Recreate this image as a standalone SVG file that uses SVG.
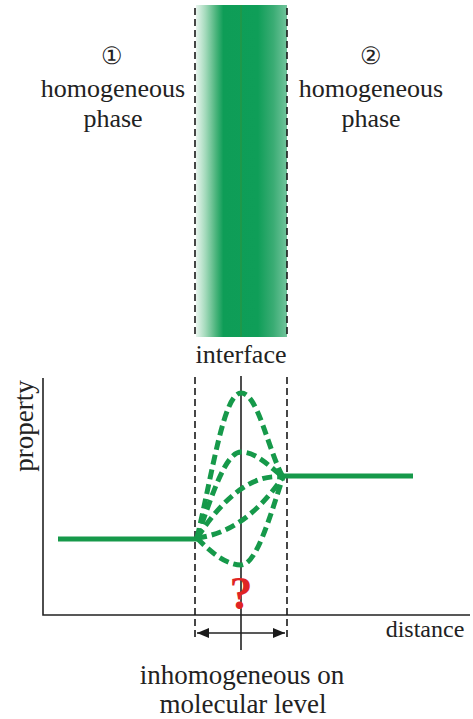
<svg xmlns="http://www.w3.org/2000/svg" width="473" height="719" viewBox="0 0 473 719">
<style>
.t{font-family:"Liberation Serif","Times New Roman",serif;fill:#222;text-anchor:middle}
.bd{stroke:#1a1a1a;stroke-width:1.6;stroke-dasharray:7 4;fill:none}
.ax{stroke:#222;stroke-width:1.6;fill:none}
.gs{stroke:#16994a;stroke-width:5;fill:none}
.gd{stroke:#16994a;stroke-width:5;fill:none;stroke-dasharray:10 5}
</style>
<defs>
<linearGradient id="band" x1="196" y1="0" x2="287" y2="0" gradientUnits="userSpaceOnUse">
<stop offset="0" stop-color="#e8f5ee"/>
<stop offset="0.1" stop-color="#a6dbbd"/>
<stop offset="0.22" stop-color="#4ab47c"/>
<stop offset="0.3" stop-color="#0e9d57"/>
<stop offset="0.68" stop-color="#0f9e58"/>
<stop offset="0.85" stop-color="#3aac74"/>
<stop offset="1" stop-color="#72c49c"/>
</linearGradient>
<marker id="ah" viewBox="0 0 12 10" refX="12" refY="5" markerWidth="12" markerHeight="10" markerUnits="userSpaceOnUse" orient="auto-start-reverse">
<path d="M0,0 L12,5 L0,10 Z" fill="#1a1a1a"/>
</marker>
</defs>

<g id="interface-band">
<rect x="196" y="5" width="91" height="332" fill="url(#band)"/>
<line x1="241" y1="5" x2="241" y2="337" stroke="#2a9440" stroke-width="1.2"/>
</g>

<g id="phase1">
<text class="t" x="112" y="64" font-size="24">①</text>
<text class="t" x="113" y="97" font-size="26">homogeneous</text>
<text class="t" x="113" y="127" font-size="26">phase</text>
</g>
<g id="phase2">
<text class="t" x="371" y="64" font-size="24">②</text>
<text class="t" x="371" y="97" font-size="26">homogeneous</text>
<text class="t" x="371" y="127" font-size="26">phase</text>
</g>
<g id="interface-label">
<text class="t" x="241" y="363" font-size="26">interface</text>
</g>

<g id="axes">
<polyline class="ax" points="43,378 43,615 470,615"/>
<text class="t" x="425" y="637" font-size="24">distance</text>
<text class="t" transform="translate(33,426) rotate(-90)" font-size="27">property</text>
</g>

<g id="connectors">
<line class="bd" x1="195" y1="8" x2="195" y2="337"/>
<line class="bd" x1="287" y1="8" x2="287" y2="337"/>
<line class="bd" x1="195" y1="377" x2="195" y2="641"/>
<line class="bd" x1="287" y1="377" x2="287" y2="641"/>
<line class="ax" x1="241" y1="376" x2="241" y2="650"/>
<line class="ax" x1="197" y1="633" x2="285" y2="633" marker-start="url(#ah)" marker-end="url(#ah)"/>
</g>

<g id="curves">
<line class="gs" x1="58" y1="539" x2="198" y2="539"/>
<line class="gs" x1="283" y1="476" x2="413" y2="476"/>
<path class="gd" d="M197,538 C213,470 224,393 241,393 C258,393 268,450 283,477"/>
<path class="gd" d="M197,538 C213,492 226,452 241,452 C257,452 271,468 283,477"/>
<path class="gd" d="M197,538 Q240,472 283,477"/>
<path class="gd" d="M197,538 C228,534 256,516 283,477"/>
<path class="gd" d="M197,538 C214,556 229,565 241,565 C256,565 269,520 283,477"/>
</g>

<g id="question">
<text x="241" y="609" font-family="Liberation Serif, serif" font-weight="bold" font-size="46" fill="#e02424" text-anchor="middle">?</text>
</g>

<g id="bottom-label">
<text class="t" x="242" y="684" font-size="27">inhomogeneous on</text>
<text class="t" x="243" y="713" font-size="27">molecular level</text>
</g>
</svg>
